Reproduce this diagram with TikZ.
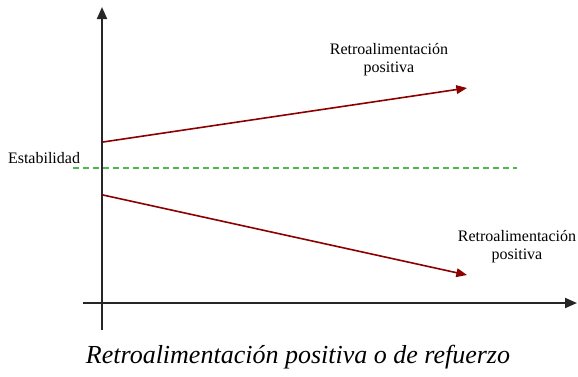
\documentclass[tikz,border=0pt]{standalone}
\usepackage{fontspec}
\setmainfont{Liberation Serif}
\usetikzlibrary{arrows.meta}

\begin{document}
\begin{tikzpicture}[x=0.75pt,y=-0.75pt,
  axis/.style={draw=black!85,line width=1.5pt,-{Triangle[length=9pt,width=7.5pt]}},
  trend/.style={draw=red!55!black,line width=1.2pt,-{Triangle[length=8pt,width=6.5pt]}},
  stable/.style={draw=green!60!black!70,line width=0.9pt,dash pattern=on 4.5pt off 3pt},
  lbl/.style={font=\fontsize{12pt}{13.5pt}\selectfont,align=center,inner sep=0pt}]
\useasboundingbox (0,0) rectangle (578,376);

% define the axes
  \coordinate (ybot) at (102,330);
  \coordinate (ytop) at (102,7);
  \coordinate (xleft) at (83,303);
  \coordinate (xright) at (577,303);
  \draw[axis] (ybot) -- (ytop);
  \draw[axis] (xleft) -- (xright);

% define the stability line
  \coordinate (sleft) at (73,168);
  \coordinate (sright) at (517,168);
  \draw[stable] (sleft) -- (sright);
  \node[lbl] (estab) at (44,158) {Estabilidad};

% define the trends
  \coordinate (up0) at (103,142);
  \coordinate (up1) at (467,88);
  \coordinate (dn0) at (103,195);
  \coordinate (dn1) at (467,275);
  \draw[trend] (up0) -- (up1);
  \draw[trend] (dn0) -- (dn1);
  \node[lbl] (uplbl) at (389,60) {Retroalimentación\\positiva};
  \node[lbl] (dnlbl) at (517,247) {Retroalimentación\\positiva};

% caption
  \node[font=\fontsize{19.5pt}{22pt}\selectfont\itshape,inner sep=0pt] (cap) at (298,357)
    {Retroalimentación positiva o de refuerzo};
\end{tikzpicture}
\end{document}
